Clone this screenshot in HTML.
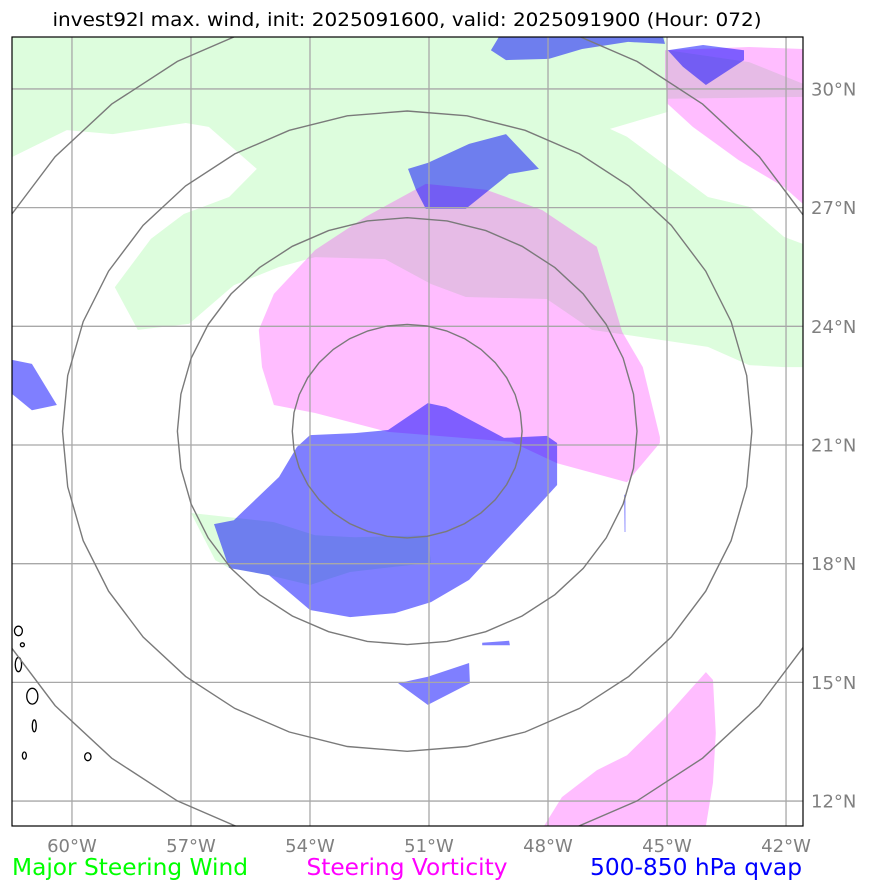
<!DOCTYPE html>
<html><head><meta charset="utf-8"><style>
body{margin:0;background:#fff;width:873px;height:891px;overflow:hidden}
svg{display:block;font-family:"DejaVu Sans","Liberation Sans",sans-serif}
</style></head><body>
<svg id="chart" width="873" height="891" viewBox="0 0 873 891" xmlns="http://www.w3.org/2000/svg">
<text x="407" y="26" text-anchor="middle" font-size="19" textLength="709" lengthAdjust="spacingAndGlyphs" fill="#000">invest92l max. wind, init: 2025091600, valid: 2025091900 (Hour: 072)</text>
<defs><clipPath id="mapclip"><rect x="12" y="37" width="791" height="789"/></clipPath></defs>
<g id="plot" clip-path="url(#mapclip)"></g>
<rect x="12" y="37" width="791" height="789" fill="none" stroke="#000" stroke-width="1.2"/>
<g id="ticks"></g>
<text x="12" y="875" font-size="23" textLength="236" lengthAdjust="spacingAndGlyphs" fill="#00ff00">Major Steering Wind</text>
<text x="407" y="875" text-anchor="middle" font-size="23" textLength="201" lengthAdjust="spacingAndGlyphs" fill="#ff00ff">Steering Vorticity</text>
<text x="802" y="875" text-anchor="end" font-size="23" textLength="212" lengthAdjust="spacingAndGlyphs" fill="#0000ff">500-850 hPa qvap</text>
</svg>
<script>
const lonTicks=[-60,-57,-54,-51,-48,-45,-42];
const latTicks=[12,15,18,21,24,27,30];
const ringRadiiKm=[300,600,900,1200];
const stormCenter=[-51.55,21.35];
const windAreas=[
[[-61.51,31.31],[-45.05,31.31],[-44.98,30.98],[-42.93,30.68],[-41.57,30.13],[-41.57,29.8],[-44.98,29.75],[-44.98,29.42],[-46.44,28.99],[-46.01,28.79],[-43.97,27.27],[-42.93,27.02],[-42.05,26.26],[-41.57,26.08],[-41.57,22.97],[-42.05,22.97],[-42.93,23.02],[-43.97,23.48],[-45.1,23.65],[-46.89,23.91],[-48.03,24.69],[-50.07,24.74],[-50.95,25.07],[-52.11,25.7],[-53.87,25.75],[-54.78,25.5],[-55.92,25.04],[-57.05,24.06],[-58.34,23.91],[-58.92,24.99],[-58.01,26.21],[-57.18,26.84],[-56.04,27.27],[-55.34,27.98],[-56.55,29.04],[-57.13,29.14],[-58.97,28.86],[-60.13,28.96],[-61.51,28.28]],
[[-57.0,19.28],[-54.91,19.05],[-53.87,18.72],[-52.87,18.67],[-51.03,18.72],[-50.95,18.02],[-51.86,17.92],[-52.99,17.79],[-54.0,17.46],[-55.03,17.71],[-56.04,17.89],[-56.39,18.09]]
];
const vortAreas=[
[[-49.56,27.45],[-48.15,26.94],[-46.77,26.01],[-46.13,23.86],[-45.61,22.97],[-45.18,21.2],[-45.18,21.05],[-46.01,20.06],[-47.77,20.54],[-48.93,21.08],[-52.03,21.33],[-53.87,21.81],[-54.91,22.01],[-55.21,22.97],[-55.29,23.91],[-54.91,24.82],[-53.87,25.93],[-52.61,26.76],[-51.08,27.6]],
[[-45.05,30.98],[-42.93,31.06],[-41.57,31.01],[-41.57,27.09],[-42.05,27.52],[-43.19,28.2],[-44.35,29.04],[-44.98,29.62],[-45.05,30.3]],
[[-44.02,15.26],[-43.84,15.06],[-43.77,13.72],[-43.84,12.46],[-44.02,11.37],[-48.1,11.37],[-47.65,12.1],[-46.77,12.78],[-46.01,13.16],[-45.1,14.05]]
];
const qvapAreas=[
[[-54.0,21.25],[-52.87,21.3],[-52.03,21.38],[-51.03,22.06],[-50.57,21.96],[-49.11,21.18],[-48.03,21.23],[-47.77,21.05],[-47.77,19.99],[-48.28,19.43],[-49.99,17.59],[-50.95,17.03],[-51.86,16.75],[-52.99,16.65],[-54.0,16.83],[-55.03,17.71],[-56.04,17.89],[-56.42,19.0],[-55.92,19.1],[-54.78,20.19],[-54.33,20.95]],
[[-49.24,31.31],[-45.1,31.31],[-45.05,31.14],[-45.98,31.19],[-47.14,31.01],[-47.98,30.76],[-49.06,30.73],[-49.44,30.98]],
[[-44.98,30.98],[-44.09,31.11],[-43.06,30.98],[-43.06,30.73],[-44.02,30.1],[-44.6,30.56]],
[[-51.53,27.98],[-51.03,28.13],[-49.99,28.61],[-49.06,28.86],[-48.23,27.98],[-48.98,27.85],[-50.07,26.97],[-51.08,26.97],[-51.33,27.45]],
[[-61.51,23.15],[-61.01,23.05],[-60.38,22.01],[-61.01,21.88],[-61.51,22.29]],
[[-51.78,14.98],[-51.03,15.14],[-49.99,15.49],[-49.97,14.98],[-51.03,14.43]],
[[-49.66,16.0],[-48.98,16.05],[-48.96,15.94],[-49.66,15.94]],
[[-46.08,19.74],[-46.05,19.74],[-46.05,18.8],[-46.07,18.8]]
];
const islands=[[-61.35,16.3,0.1,0.12],[-61.25,15.95,0.05,0.05],[-61.35,15.45,0.08,0.18],[-61.0,14.65,0.14,0.2],[-60.95,13.9,0.05,0.15],[-61.2,13.15,0.05,0.09],[-59.6,13.12,0.08,0.1]];

const NS='http://www.w3.org/2000/svg';
const xS=lon=>429+(lon+51)*39.67;
const yS=lat=>445-(lat-21)*39.56;
const plot=document.getElementById('plot');
const ticks=document.getElementById('ticks');
function mk(tag,attrs,parent){const e=document.createElementNS(NS,tag);for(const k in attrs)e.setAttribute(k,attrs[k]);parent.appendChild(e);return e;}
function pts(poly){return poly.map(p=>xS(p[0]).toFixed(1)+','+yS(p[1]).toFixed(1)).join(' ');}
windAreas.forEach((p,i)=>{const e=mk('polygon',{points:pts(p),fill:'rgb(221,253,221)'},plot);

});
vortAreas.forEach((p,i)=>{const e=mk('polygon',{points:pts(p),fill:'#ff00ff','fill-opacity':0.26},plot);

});
qvapAreas.forEach((p,i)=>{const e=mk('polygon',{points:pts(p),fill:'#0000ff','fill-opacity':0.5},plot);

});
islands.forEach((d,i)=>{const e=mk('ellipse',{cx:xS(d[0]),cy:yS(d[1]),rx:d[2]*39.67,ry:d[3]*39.56,fill:'none',stroke:'#000','stroke-width':1.3},plot);

});
lonTicks.forEach(l=>{const x=xS(l);
const g=mk('line',{x1:x,x2:x,y1:37,y2:826,stroke:'#a8a8a8','stroke-width':1.3},plot);


const t=mk('text',{x:x,y:852,'text-anchor':'middle','font-size':18,fill:'#808080'},ticks);t.textContent=Math.abs(l)+'°W';

});
latTicks.forEach(l=>{const y=yS(l);
const g=mk('line',{x1:12,x2:803,y1:y,y2:y,stroke:'#a8a8a8','stroke-width':1.3},plot);


const t=mk('text',{x:811,y:y+6.5,'font-size':18,fill:'#808080'},ticks);t.textContent=l+'°N';

});
ringRadiiKm.forEach(r=>{const dlat=r/111.2,dlon=r/(111.2*Math.cos(stormCenter[1]*Math.PI/180));const p=[];
for(let k=0;k<36;k++){const a=k/36*2*Math.PI;p.push([stormCenter[0]+dlon*Math.sin(a),stormCenter[1]+dlat*Math.cos(a)]);}
const e=mk('polygon',{points:pts(p),fill:'none',stroke:'#7a7a7a','stroke-width':1.4},plot);

});
</script>
</body></html>
